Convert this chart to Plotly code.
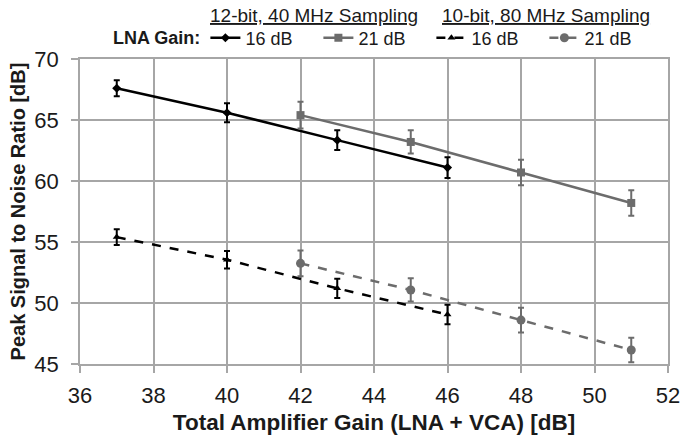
import plotly.graph_objects as go

x_12_16 = [37, 40, 43, 46]
y_12_16 = [67.6, 65.6, 63.35, 61.1]
e_12_16 = [0.65, 0.78, 0.8, 0.85]

x_12_21 = [42, 45, 48, 51]
y_12_21 = [65.4, 63.2, 60.7, 58.2]
e_12_21 = [1.1, 0.95, 1.05, 1.05]

x_10_16 = [37, 40, 43, 46]
y_10_16 = [55.4, 53.55, 51.2, 49.05]
e_10_16 = [0.65, 0.72, 0.78, 0.8]

x_10_21 = [42, 45, 48, 51]
y_10_21 = [53.25, 51.07, 48.6, 46.15]
e_10_21 = [1.05, 0.95, 1.02, 1.0]

names = ["16 dB", "21 dB", "16 dB ", "21 dB "]
group_titles = ["12-bit, 40 MHz Sampling", "10-bit, 80 MHz Sampling"]
BLACK = "#000000"
GRAY = "#6c6c6c"
GRID = "#a6a6a6"
TXT = "#1a1a1a"
FONT = "Liberation Sans, Arial, sans-serif"

W, H = 681, 439
ML, MR, MT, MB = 79.5, 13, 59, 75
pw = W - ML - MR
ph = H - MT - MB


def px_x(p):
    return (p - ML) / pw


def px_y(p):
    return (H - MB - p) / ph


series = [
    (x_12_16, y_12_16, e_12_16, names[0], BLACK, "solid", "diamond", 7),
    (x_12_21, y_12_21, e_12_21, names[1], GRAY, "solid", "square", 8),
    (x_10_16, y_10_16, e_10_16, names[2], BLACK, "dash", "triangle-up", 7),
    (x_10_21, y_10_21, e_10_21, names[3], GRAY, "dash", "circle", 9),
]

fig = go.Figure()
for xs, ys, es, nm, col, dash, sym, sz in series:
    fig.add_trace(go.Scatter(
        x=xs, y=ys, name=nm, mode="lines+markers",
        line=dict(color=col, width=2.5, dash=dash),
        marker=dict(color=col, symbol=sym, size=sz),
        error_y=dict(type="data", array=es, visible=True, color=col, thickness=2, width=3),
    ))

fig.update_layout(
    width=W, height=H,
    margin=dict(l=ML, r=MR, t=MT, b=MB, autoexpand=False),
    paper_bgcolor="white", plot_bgcolor="white",
    font=dict(family=FONT, color=TXT),
    showlegend=True,
    legend=dict(
        orientation="h", x=px_x(205), xanchor="left", y=px_y(38), yanchor="middle",
        font=dict(size=18, family=FONT, color=TXT),
        entrywidth=68, itemwidth=30, tracegroupgap=0, bgcolor="rgba(0,0,0,0)",
    ),
    xaxis=dict(
        range=[36, 52], dtick=2, tick0=36, automargin=False,
        showgrid=True, gridcolor=GRID, gridwidth=1.5,
        showline=True, linecolor=GRID, linewidth=1.5, mirror=True,
        ticks="outside", ticklen=7, tickcolor=GRID, tickwidth=1.5,
        ticklabelstandoff=4,
        tickfont=dict(size=22, family=FONT, color=TXT),
        title=dict(text="<b>Total Amplifier Gain (LNA + VCA) [dB]</b>",
                   font=dict(size=22.5, family=FONT, color=TXT), standoff=7),
        zeroline=False,
    ),
    yaxis=dict(
        range=[45, 70], dtick=5, tick0=45, automargin=False,
        showgrid=True, gridcolor=GRID, gridwidth=1.5,
        showline=True, linecolor=GRID, linewidth=1.5, mirror=True,
        ticks="outside", ticklen=7, tickcolor=GRID, tickwidth=1.5,
        ticklabelstandoff=8,
        tickfont=dict(size=22, family=FONT, color=TXT),
        title=dict(text="<b>Peak Signal to Noise Ratio [dB]</b>",
                   font=dict(size=20, family=FONT, color=TXT), standoff=3),
        zeroline=False,
    ),
    annotations=[
        dict(text="<b>LNA Gain:</b>", x=px_x(111), y=px_y(38), xref="paper", yref="paper",
             xanchor="left", yanchor="middle", showarrow=False,
             font=dict(size=18, family=FONT, color=TXT)),
        dict(text="<u>" + group_titles[0] + "</u>", x=px_x(314), y=px_y(16), xref="paper", yref="paper",
             xanchor="center", yanchor="middle", showarrow=False,
             font=dict(size=19, family=FONT, color=TXT)),
        dict(text="<u>" + group_titles[1] + "</u>", x=px_x(546), y=px_y(16), xref="paper", yref="paper",
             xanchor="center", yanchor="middle", showarrow=False,
             font=dict(size=19, family=FONT, color=TXT)),
    ],
)

fig.write_html("out.html", config={"displayModeBar": False},
               post_script="document.body.style.margin='0';document.body.style.overflow='hidden';")
